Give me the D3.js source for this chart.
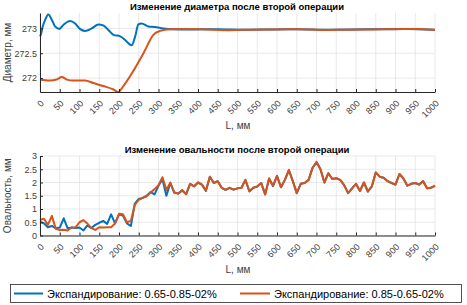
<!DOCTYPE html>
<html><head><meta charset="utf-8">
<script src="https://cdn.jsdelivr.net/npm/d3@7"></script>
<style>
body{margin:0;background:#fff;}
text{font-family:"Liberation Sans",Arial,sans-serif;}
</style></head>
<body><svg id="c" width="467" height="305"></svg>
<script>
// ---- data ----
const diamTitle = "Изменение диаметра после второй операции";
const ovalTitle = "Изменение овальности после второй операции";
const xLabel = "L, мм";
const diamYLabel = "Диаметр, мм";
const ovalYLabel = "Овальность, мм";
const seriesNames = ["Экспандирование: 0.65-0.85-02%", "Экспандирование: 0.85-0.65-02%"];
const xTicks = [0,50,100,150,200,250,300,350,400,450,500,550,600,650,700,750,800,850,900,950,1000];
const diamYTicks = [272, 272.5, 273];
const ovalYTicks = [0,0.5,1,1.5,2,2.5,3];

// diameter, series 1 (blue)
const diamL1 = [0,2,7,13,21,30,38,49,59,76,89,101,114,131,148,160,173,186,203,215,224,232,241,249,257,274,291,312,337,380,450,520,580,650,720,790,860,930,1000];
const diamV1 = [272.84,272.87,273.04,273.17,273.28,273.17,273.04,272.99,273.07,273.15,273.10,272.99,272.95,273.00,273.08,273.06,272.97,272.87,272.84,272.77,272.70,272.66,272.84,273.08,273.10,273.04,273.03,273.00,272.985,272.98,272.985,272.975,272.98,272.985,272.975,272.98,272.985,272.99,272.975];
// diameter, series 2 (orange)
const diamL2 = [0,25,42,55,68,84,114,135,160,186,198,211,236,262,287,304,329,371,420,480,540,600,660,720,780,840,900,950,1000];
const diamV2 = [271.97,271.95,271.97,272.02,271.97,271.95,271.95,271.90,271.84,271.77,271.72,271.84,272.14,272.50,272.87,272.95,272.985,272.99,272.98,272.965,272.975,272.98,272.985,272.97,272.975,272.98,272.985,272.99,272.97];

// ovality, sampled every 10 mm
const ovalL = [0,10,20,30,40,50,60,70,80,90,100,110,120,130,140,150,160,170,180,190,200,210,220,230,240,250,260,270,280,290,300,310,320,330,340,350,360,370,380,390,400,410,420,430,440,450,460,470,480,490,500,510,520,530,540,550,560,570,580,590,600,610,620,630,640,650,660,670,680,690,700,710,720,730,740,750,760,770,780,790,800,810,820,830,840,850,860,870,880,890,900,910,920,930,940,950,960,970,980,990,1000];
const ovalV1 = [0.52,0.46,0.31,0.36,0.27,0.30,0.65,0.27,0.30,0.28,0.30,0.19,0.38,0.28,0.40,0.48,0.55,0.44,0.80,0.46,0.80,0.75,0.46,0.36,1.20,1.38,1.42,1.50,1.64,1.55,1.88,2.12,1.50,1.98,1.62,1.58,1.70,1.56,1.95,1.85,2.00,1.92,1.68,2.22,1.98,2.05,1.80,1.72,1.80,1.73,1.78,1.80,2.10,1.66,1.80,1.85,1.98,1.55,2.15,1.86,2.25,1.82,2.10,2.46,2.05,1.60,1.95,1.98,2.10,2.55,2.76,2.50,2.00,2.35,2.13,2.16,2.10,1.90,1.60,1.78,1.95,1.68,2.00,1.66,1.85,2.38,2.22,2.18,2.05,1.98,1.92,2.32,2.15,1.88,1.95,1.98,1.92,2.05,1.78,1.80,1.88];
const ovalV2 = [0.59,0.63,0.40,0.74,0.25,0.21,0.22,0.19,0.30,0.31,0.50,0.58,0.45,0.28,0.21,0.31,0.30,0.31,0.31,0.45,0.82,0.80,0.50,0.55,1.15,1.35,1.42,1.48,1.62,1.75,1.90,2.20,1.72,2.00,1.62,1.58,1.72,1.56,1.95,1.86,2.00,1.92,1.70,2.22,1.98,2.05,1.80,1.72,1.80,1.73,1.78,1.80,2.10,1.68,1.80,1.85,1.98,1.55,2.15,1.88,2.25,1.82,2.10,2.48,2.05,1.60,1.95,1.98,2.10,2.55,2.78,2.50,2.00,2.35,2.13,2.16,2.10,1.90,1.60,1.78,1.95,1.68,2.00,1.66,1.85,2.38,2.22,2.18,2.05,1.98,1.92,2.32,2.15,1.88,1.95,1.98,1.92,2.05,1.78,1.80,1.88];

const colors = ["#0072BD", "#D95319"];

// ---- drawing ----
const svg = d3.select("#c");
const X0 = 40, X1 = 435;

function panel(opt){
  const g = svg.append("g");
  const x = d3.scaleLinear().domain([0,1000]).range([X0,X1]);
  const y = d3.scaleLinear().domain(opt.ydom).range([opt.y1,opt.y0]);
  // grid
  g.append("g").selectAll("line").data(xTicks).join("line")
    .attr("x1",d=>x(d)).attr("x2",d=>x(d)).attr("y1",opt.y0).attr("y2",opt.y1)
    .attr("stroke","#e3e3e3").attr("stroke-width",0.8);
  g.append("g").selectAll("line").data(opt.yticks).join("line")
    .attr("x1",X0).attr("x2",X1).attr("y1",d=>y(d)).attr("y2",d=>y(d))
    .attr("stroke","#e3e3e3").attr("stroke-width",0.8);
  // series
  opt.series.forEach((s,i)=>{
    const line = d3.line().x((d,j)=>x(s.L[j])).y(d=>y(d)).curve(opt.curve);
    g.append("path").attr("d",line(s.V)).attr("fill","none")
      .attr("stroke",colors[i]).attr("stroke-width",2).attr("stroke-linejoin","round");
  });
  // axes
  const xa = d3.axisBottom(x).tickValues(xTicks).tickSizeInner(-3).tickSizeOuter(0).tickFormat(d3.format("d"));
  const xg = g.append("g").attr("transform",`translate(0,${opt.y1})`).call(xa);
  xg.select(".domain").attr("stroke","#262626");
  xg.selectAll(".tick line").attr("stroke","#262626");
  xg.selectAll(".tick text").attr("fill","#404040").attr("font-size",9)
    .attr("text-anchor","end").attr("dy",null).attr("y",null)
    .attr("transform","translate(4,12) rotate(-45)");
  const ya = d3.axisLeft(y).tickValues(opt.yticks).tickSizeInner(-3).tickSizeOuter(0).tickFormat(opt.yfmt);
  const yg = g.append("g").attr("transform",`translate(${X0},0)`).call(ya);
  yg.select(".domain").attr("stroke","#262626");
  yg.selectAll(".tick line").attr("stroke","#262626");
  yg.selectAll(".tick text").attr("fill","#404040").attr("font-size",9).attr("x",-3);
  // title
  svg.append("text").attr("x",237).attr("y",opt.y0-3).attr("text-anchor","middle")
    .attr("font-size",9.5).attr("font-weight","bold").attr("fill","#000").text(opt.title);
  // x label
  svg.append("text").attr("x",238).attr("y",opt.xlabY).attr("text-anchor","middle")
    .attr("font-size",10).attr("fill","#404040").text(xLabel);
  // y label
  svg.append("text").attr("transform",`translate(11,${(opt.y0+opt.y1)/2}) rotate(-90)`)
    .attr("text-anchor","middle").attr("font-size",10).attr("fill","#404040").text(opt.ylabel);
}

panel({ydom:[271.72,273.31], y0:13, y1:92, yticks:diamYTicks, yfmt:d=>d3.format("")(d),
  title:diamTitle, ylabel:diamYLabel, xlabY:129, curve:d3.curveMonotoneX,
  series:[{L:diamL1,V:diamV1},{L:diamL2,V:diamV2}]});
panel({ydom:[0,3], y0:156, y1:235.5, yticks:ovalYTicks, yfmt:d=>d3.format("")(d),
  title:ovalTitle, ylabel:ovalYLabel, xlabY:273, curve:d3.curveLinear,
  series:[{L:ovalL,V:ovalV1},{L:ovalL,V:ovalV2}]});

// legend
const lg = svg.append("g");
lg.append("rect").attr("x",10.5).attr("y",284.5).attr("width",451).attr("height",18)
  .attr("fill","#fff").attr("stroke","#262626").attr("stroke-width",0.8);
const legItems = [{x0:14,x1:43,tx:47},{x0:240,x1:270,tx:274}];
legItems.forEach((p,i)=>{
  lg.append("line").attr("x1",p.x0).attr("x2",p.x1).attr("y1",293.5).attr("y2",293.5)
    .attr("stroke",colors[i]).attr("stroke-width",2);
  lg.append("text").attr("x",p.tx).attr("y",297.5).attr("font-size",11).attr("fill","#000").text(seriesNames[i]);
});
</script></body></html>
